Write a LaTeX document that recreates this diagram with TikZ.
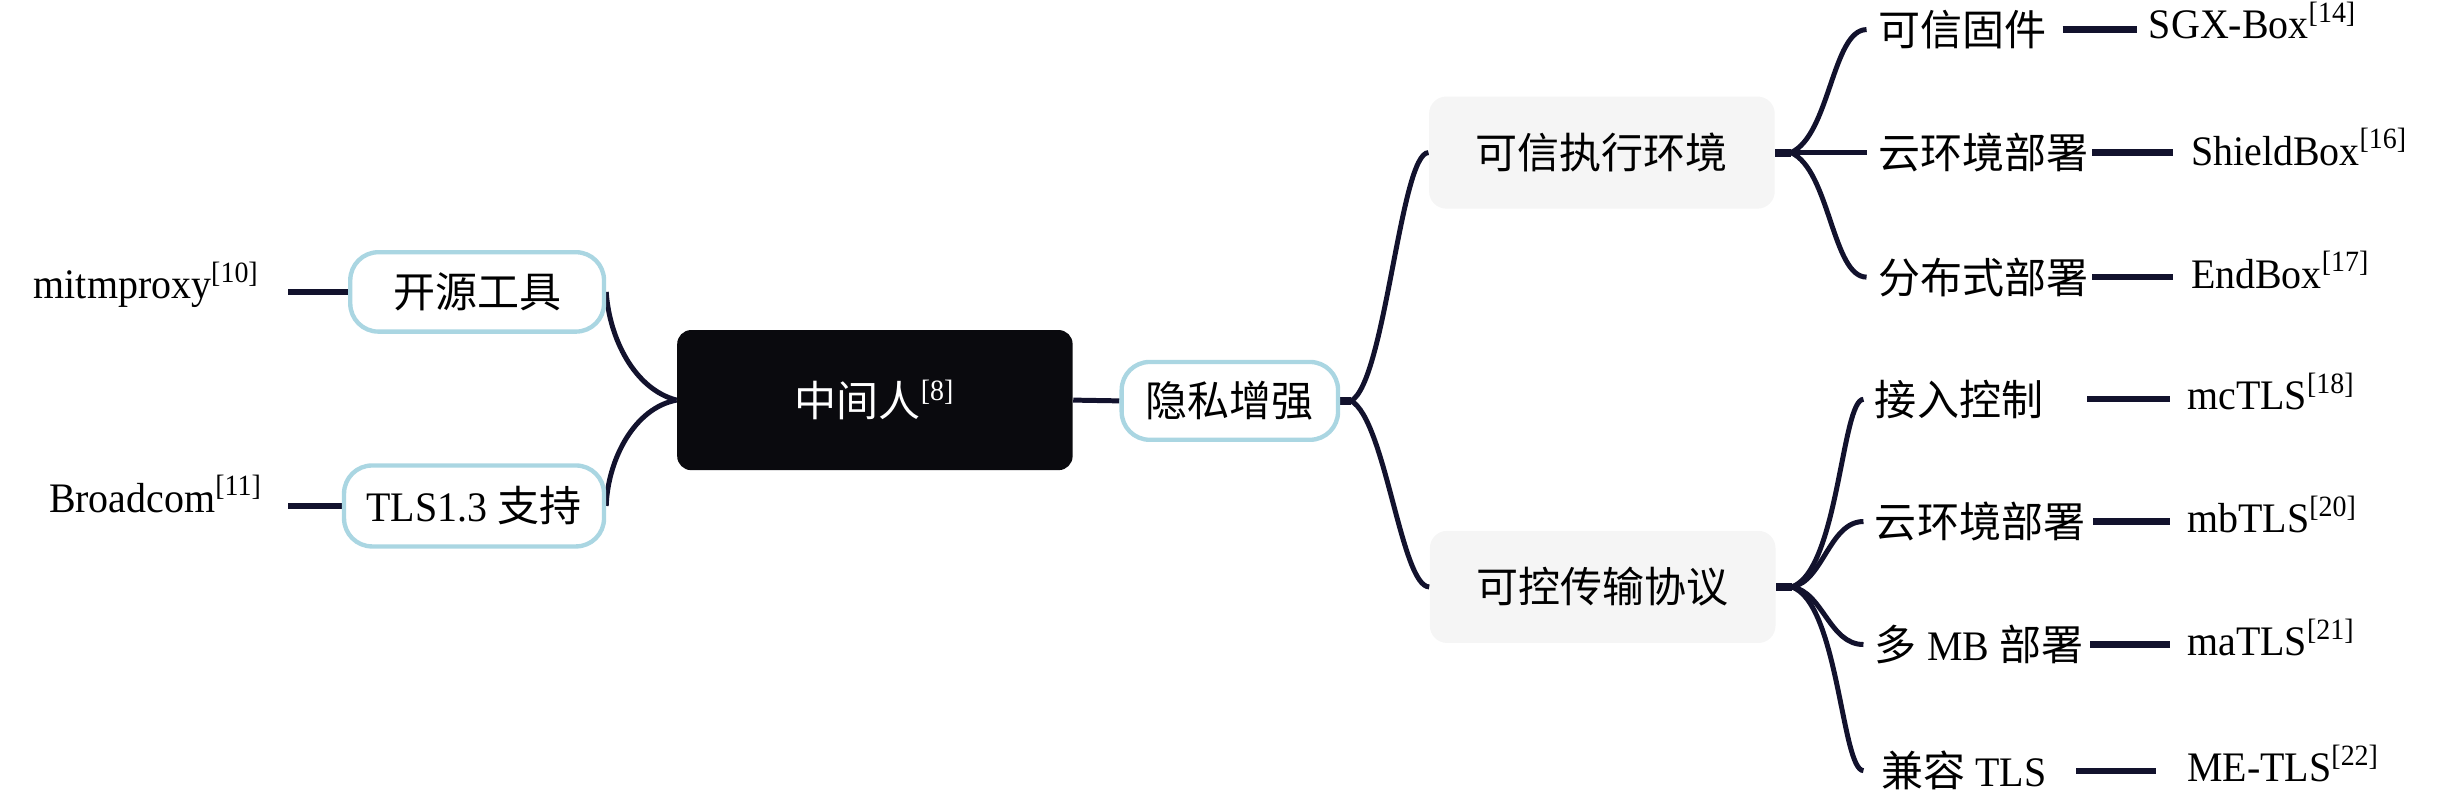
\documentclass[tikz,border=0pt]{standalone}
\usepackage{fontspec}
\setmainfont{Liberation Serif}[FakeStretch=0.95]
\newfontfamily\cjk{Noto Sans CJK SC}
\usetikzlibrary{calc,backgrounds}
\newcommand\zhs[1]{{\cjk #1}}
\definecolor{lineclr}{RGB}{18,18,45}
\definecolor{pillblue}{RGB}{170,214,226}
\definecolor{greyfill}{RGB}{245,245,245}
\definecolor{rootfill}{RGB}{10,10,14}
\begin{document}
\begin{tikzpicture}[x=0.5pt,y=-0.5pt,
  txt/.style={font=\fontsize{13.5}{16}\selectfont, inner sep=0pt},
  pill/.style={txt, draw=pillblue, line width=1.4pt, rounded corners=9pt, fill=white, minimum height=25.5pt},
  greybox/.style={txt, fill=greyfill, rounded corners=5.5pt, minimum width=111pt, minimum height=36pt},
  rootbox/.style={txt, fill=rootfill, text=white, rounded corners=4.5pt, minimum width=127pt, minimum height=45pt},
  child/.style={txt, anchor=west, inner xsep=3.5pt},
  leaf/.style={txt, anchor=base west},
  conn/.style={draw=lineclr, line width=1.6pt},
  stub/.style={draw=lineclr, line width=2.6pt},
  leafline/.style={draw=lineclr, line width=2pt},
]
\useasboundingbox (0,0) rectangle (1568,516);

% main nodes
\node[rootbox] (mid) at (562,257) {\zhs{中间人}\textsuperscript{[8]}};
\node[pill, minimum width=81.5pt] (tool1) at (306.5,187.5) {\zhs{开源工具}};
\node[pill, minimum width=83.5pt, minimum height=26pt] (tool2) at (304.5,325) {TLS1.3 \zhs{支持}};
\node[txt, anchor=base east] (mitm) at (167,192) {mitmproxy\textsuperscript{[10]}};
\node[txt, anchor=base east] (bcom) at (169,329) {Broadcom\textsuperscript{[11]}};
\node[pill, minimum width=69.5pt, minimum height=25pt] (priv) at (790,257.5) {\zhs{隐私增强}};
\node[greybox] (tee) at (1029,98) {\zhs{可信执行环境}};
\node[greybox] (ctp) at (1029.5,377) {\zhs{可控传输协议}};

% children
\node[child] (c1) at (1199,19) {\zhs{可信固件}};
\node[child] (c2) at (1199,98) {\zhs{云环境部署}};
\node[child] (c3) at (1199,178) {\zhs{分布式部署}};
\node[child] (d1) at (1197,256.5) {\zhs{接入控制}};
\node[child] (d2) at (1197,335) {\zhs{云环境部署}};
\node[child] (d3) at (1197,414) {\zhs{多} MB \zhs{部署}};
\node[child, inner xsep=5.5pt] (d4) at (1197,495) {\zhs{兼容} TLS};

% leaves
\node[leaf] (l1) at (1380,25) {SGX-Box\textsuperscript{[14]}};
\node[leaf] (l2) at (1407,106) {ShieldBox\textsuperscript{[16]}};
\node[leaf] (l3) at (1407,185) {EndBox\textsuperscript{[17]}};
\node[leaf] (m1) at (1404.6,263) {mcTLS\textsuperscript{[18]}};
\node[leaf] (m2) at (1404.6,342) {mbTLS\textsuperscript{[20]}};
\node[leaf] (m3) at (1404.6,421) {maTLS\textsuperscript{[21]}};
\node[leaf] (m4) at (1404.6,502) {ME-TLS\textsuperscript{[22]}};

\begin{scope}[on background layer]
% left side
\draw[conn] (mid.west) .. controls +(-27,-7) and +(2,30) .. (tool1.east);
\draw[conn] (mid.west) .. controls +(-27,5) and +(1,-30) .. (tool2.east);
\draw[leafline] ($(mitm.east |- tool1.west)+(18,0)$) -- (tool1.west);
\draw[leafline] ($(bcom.east |- tool2.west)+(16,0)$) -- (tool2.west);
% centre
\draw[conn] (mid.east) -- (priv.west);
\coordinate (pf) at ($(priv.east)+(7,0)$);
\draw[stub] (priv.east) -- (pf);
\draw[conn] (pf) .. controls +(22,-12) and +(-18,0) .. (tee.west);
\draw[conn] (pf) .. controls +(22,12) and +(-18,0) .. (ctp.west);
% upper group
\coordinate (tf) at ($(tee.east)+(10,0)$);
\draw[stub] (tee.east) -- (tf);
\draw[conn] (tf) .. controls +(25,-11) and +(-22,0) .. (c1.west);
\draw[conn] (tf) -- (c2.west);
\draw[conn] (tf) .. controls +(25,11) and +(-22,0) .. (c3.west);
% lower group
\coordinate (cf) at ($(ctp.east)+(10,0)$);
\draw[stub] (ctp.east) -- (cf);
\draw[conn] (cf) .. controls +(30,-10) and +(-14,0) .. (d1.west);
\draw[conn] (cf) .. controls +(20,-3) and +(-22,0) .. (d2.west);
\draw[conn] (cf) .. controls +(20,3) and +(-22,0) .. (d3.west);
\draw[conn] (cf) .. controls +(30,10) and +(-14,0) .. (d4.west);
% leaf lines
\draw[leafline] ($(l1.west |- c1.west)+(-55,0)$) -- ($(l1.west |- c1.west)+(-7,0)$);
\draw[leafline] ($(l2.west |- c2.west)+(-63,0)$) -- ($(l2.west |- c2.west)+(-11,0)$);
\draw[leafline] ($(l3.west |- c3.west)+(-63,0)$) -- ($(l3.west |- c3.west)+(-11,0)$);
\draw[leafline] ($(m1.west |- d1.west)+(-64,0)$) -- ($(m1.west |- d1.west)+(-11,0)$);
\draw[leafline] ($(m2.west |- d2.west)+(-60,0)$) -- ($(m2.west |- d2.west)+(-11,0)$);
\draw[leafline] ($(m3.west |- d3.west)+(-62,0)$) -- ($(m3.west |- d3.west)+(-11,0)$);
\draw[leafline] ($(m4.west |- d4.west)+(-71,0)$) -- ($(m4.west |- d4.west)+(-20,0)$);
\end{scope}
\end{tikzpicture}
\end{document}
